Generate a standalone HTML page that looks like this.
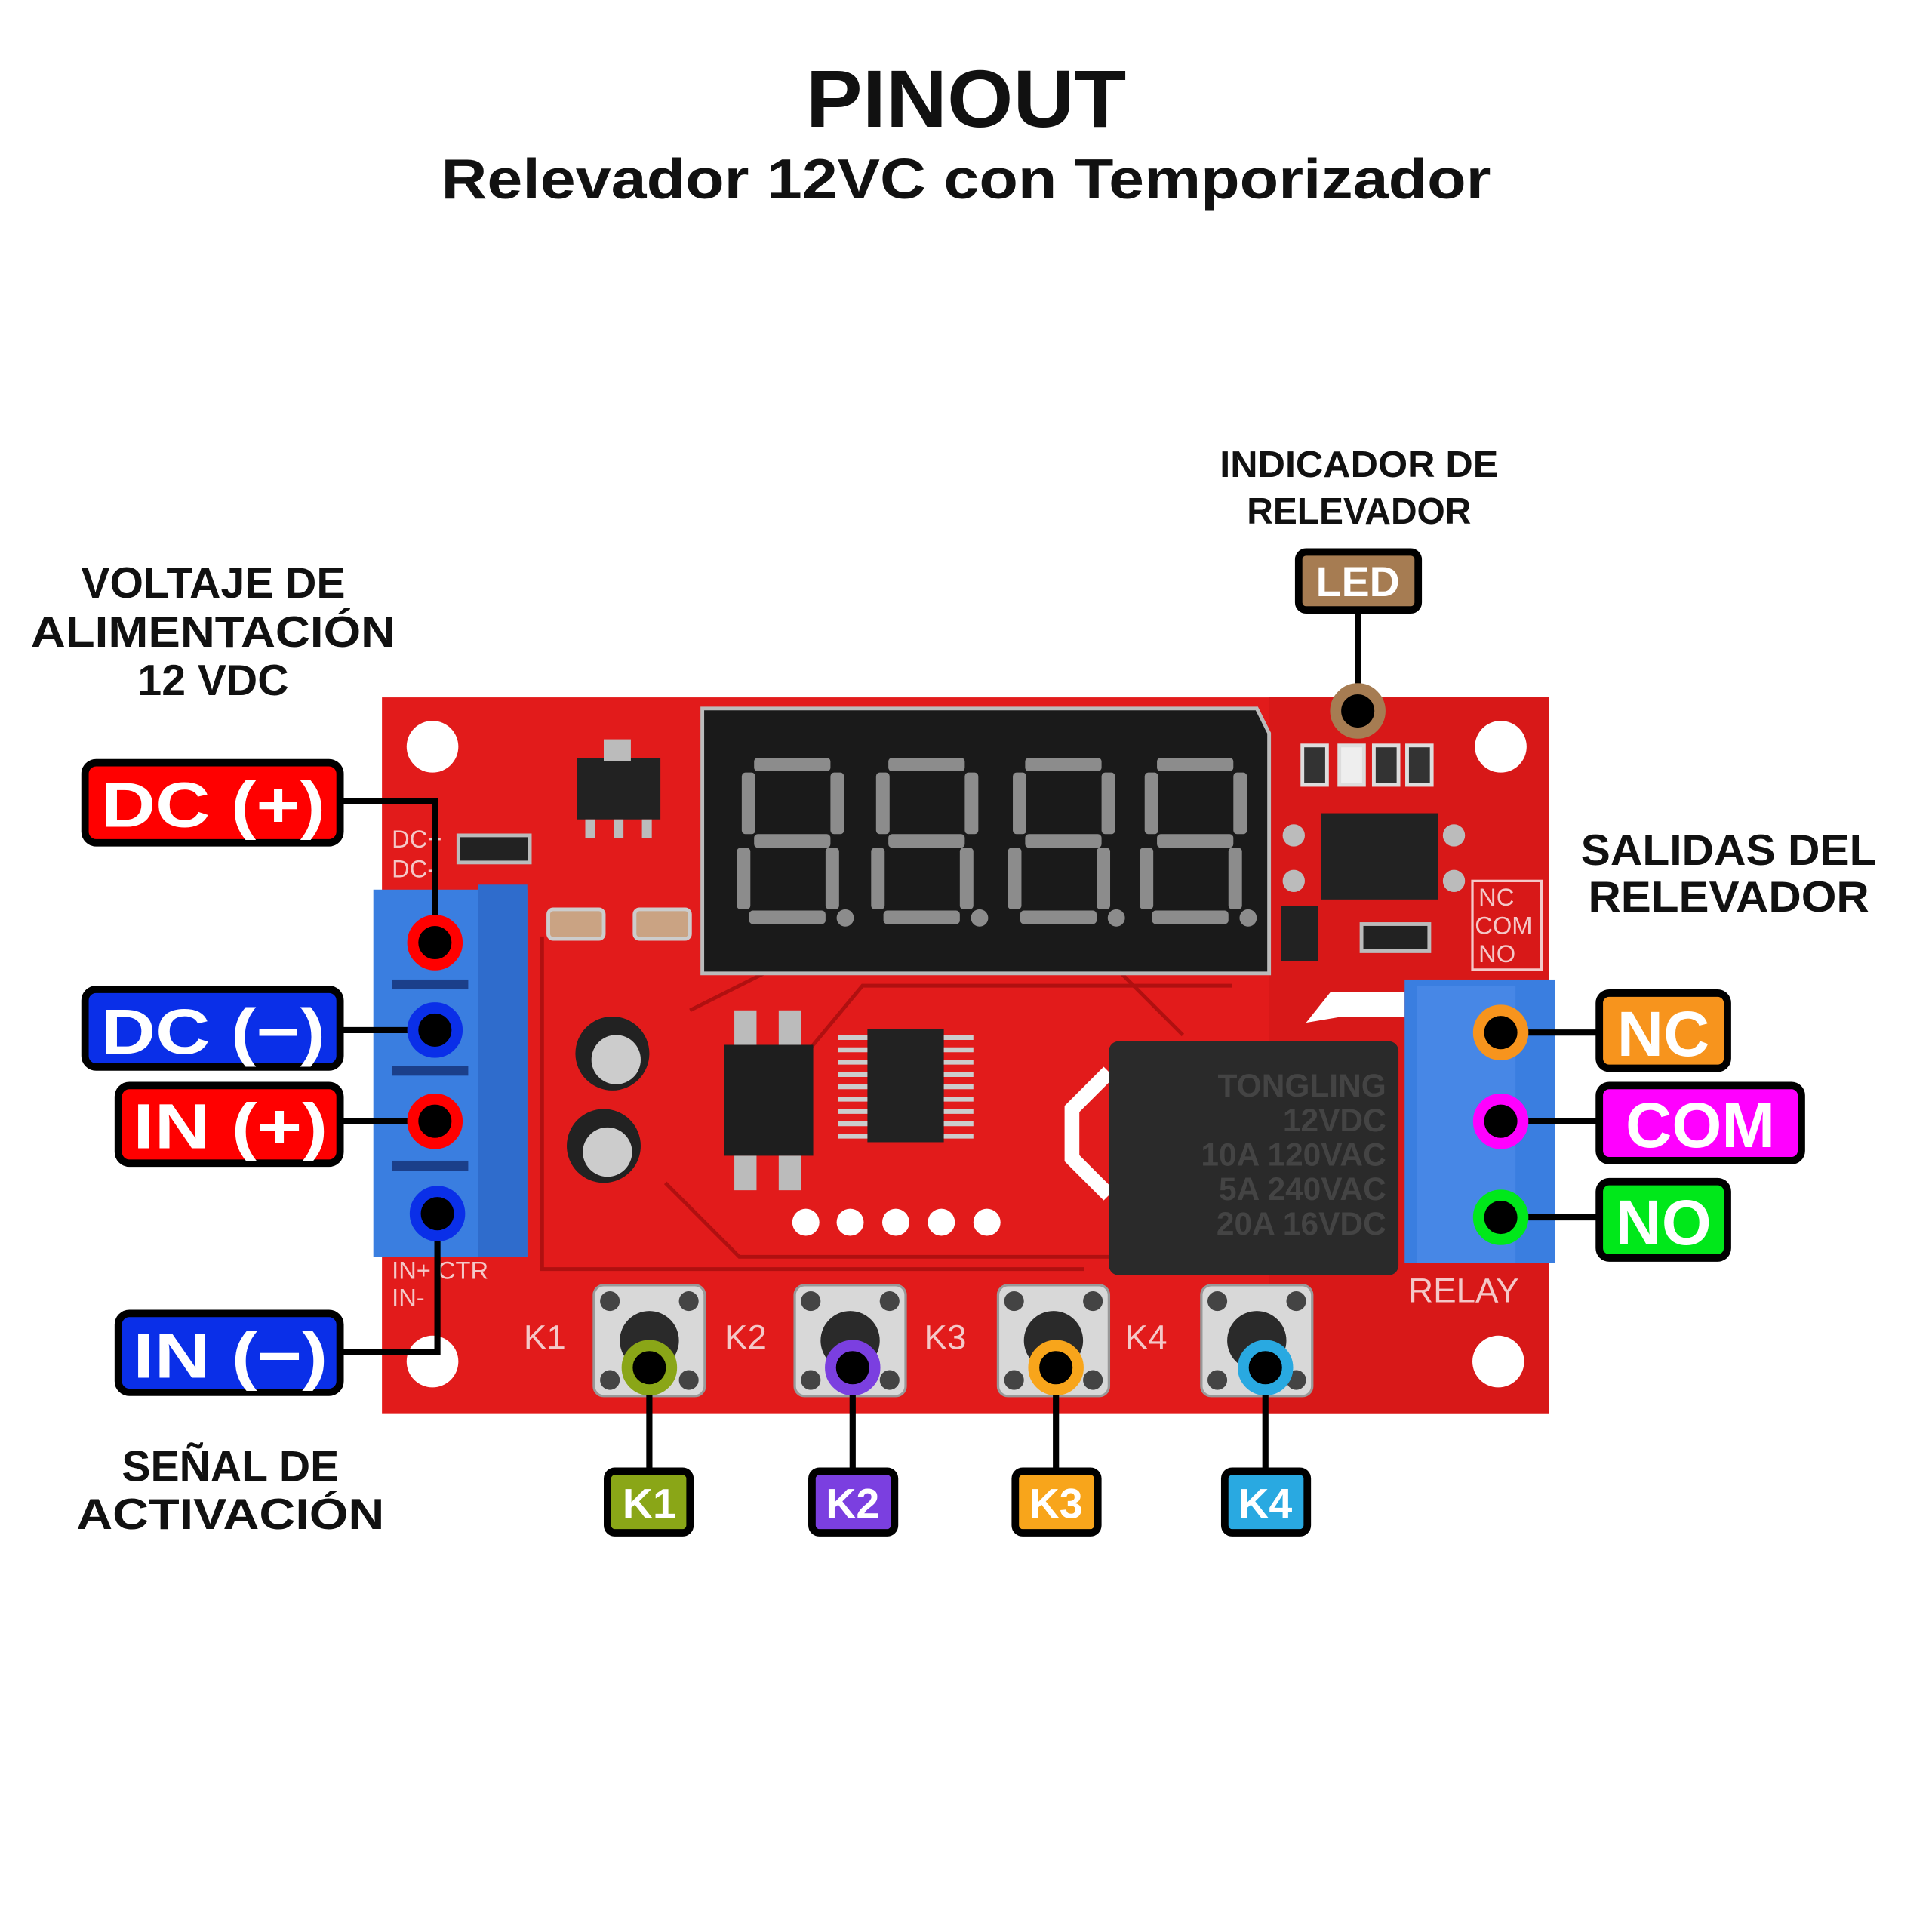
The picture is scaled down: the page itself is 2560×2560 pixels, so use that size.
<!DOCTYPE html>
<html><head><meta charset="utf-8"><style>
html,body{margin:0;padding:0;background:#fff}
svg{display:block}
text{font-family:"Liberation Sans",sans-serif;font-weight:bold}
</style></head><body>
<svg width="2560" height="2560" viewBox="0 0 1568 1568" xmlns="http://www.w3.org/2000/svg">
<defs>
<g id="dg" fill="#8c8c8c">
<rect x="14" y="0" width="62" height="11" rx="3"/>
<rect x="14" y="62" width="62" height="11" rx="3"/>
<rect x="10" y="124" width="62" height="11" rx="3"/>
<rect x="4" y="12" width="11" height="50" rx="3"/>
<rect x="76" y="12" width="11" height="50" rx="3"/>
<rect x="0" y="73" width="11" height="50" rx="3"/>
<rect x="72" y="73" width="11" height="50" rx="3"/>
<circle cx="88" cy="130" r="7"/>
</g>
<g id="btn">
<rect x="-45" y="-45" width="90" height="90" rx="8" fill="#d8d8d8" stroke="#999" stroke-width="2"/>
<circle cx="-32" cy="-32" r="8" fill="#444"/><circle cx="32" cy="-32" r="8" fill="#444"/>
<circle cx="-32" cy="32" r="8" fill="#444"/><circle cx="32" cy="32" r="8" fill="#444"/>
<circle cx="0" cy="0" r="24" fill="#2a2a2a"/>
</g>
</defs>

<text x="784" y="103" font-size="66" text-anchor="middle" fill="#111" textLength="260" lengthAdjust="spacingAndGlyphs">PINOUT</text>
<text x="784" y="161" font-size="46" text-anchor="middle" fill="#111" textLength="852" lengthAdjust="spacingAndGlyphs">Relevador 12VC con Temporizador</text>

<!-- board -->
<rect x="310" y="566" width="947" height="581" fill="#e21b1b"/>
<rect x="1030" y="566" width="227" height="581" fill="#d81818"/>
<g fill="#fff"><circle cx="351" cy="606" r="21"/><circle cx="1218" cy="606" r="21"/><circle cx="351" cy="1105" r="21"/><circle cx="1216" cy="1105" r="21"/></g>
<g fill="none" stroke="#b01010" stroke-width="3">
<path d="M560 820 L640 780 L900 780 L960 840"/><path d="M540 960 L600 1020 L900 1020"/><path d="M440 760 L440 1030 L880 1030"/><path d="M650 860 L700 800 L1000 800"/>
</g>
<!-- display -->
<path d="M570 575 L1020 575 L1030 595 L1030 790 L570 790 Z" fill="#1a1a1a" stroke="#bbb" stroke-width="3"/>
<use href="#dg" x="598" y="615"/><use href="#dg" x="707" y="615"/><use href="#dg" x="818" y="615"/><use href="#dg" x="925" y="615"/>
<!-- components -->
<rect x="468" y="615" width="68" height="50" fill="#222"/><rect x="490" y="600" width="22" height="18" fill="#bbb"/>
<g fill="#bbb"><rect x="475" y="665" width="8" height="15"/><rect x="498" y="665" width="8" height="15"/><rect x="521" y="665" width="8" height="15"/></g>
<rect x="372" y="678" width="58" height="22" fill="#222" stroke="#bbb" stroke-width="3"/>
<rect x="445" y="738" width="45" height="24" rx="4" fill="#caa383" stroke="#ccc" stroke-width="3"/>
<rect x="515" y="738" width="45" height="24" rx="4" fill="#caa383" stroke="#ccc" stroke-width="3"/>
<circle cx="497" cy="855" r="30" fill="#222"/><circle cx="500" cy="860" r="20" fill="#ccc"/>
<circle cx="490" cy="930" r="30" fill="#222"/><circle cx="493" cy="935" r="20" fill="#ccc"/>
<rect x="588" y="848" width="72" height="90" fill="#1e1e1e"/>
<g fill="#bbb"><rect x="596" y="820" width="18" height="28"/><rect x="632" y="820" width="18" height="28"/><rect x="596" y="938" width="18" height="28"/><rect x="632" y="938" width="18" height="28"/></g>
<rect x="704" y="835" width="62" height="92" fill="#222"/>
<g stroke="#ccc" stroke-width="4"><path d="M680 842H704M680 852H704M680 862H704M680 872H704M680 882H704M680 892H704M680 902H704M680 912H704M680 922H704M766 842H790M766 852H790M766 862H790M766 872H790M766 882H790M766 892H790M766 902H790M766 912H790M766 922H790"/></g>
<g fill="#fff"><circle cx="654" cy="992" r="11"/><circle cx="690" cy="992" r="11"/><circle cx="727" cy="992" r="11"/><circle cx="764" cy="992" r="11"/><circle cx="801" cy="992" r="11"/></g>
<rect x="1072" y="660" width="95" height="70" fill="#222"/>
<g fill="#bbb"><circle cx="1050" cy="678" r="9"/><circle cx="1050" cy="715" r="9"/><circle cx="1180" cy="678" r="9"/><circle cx="1180" cy="715" r="9"/></g>
<rect x="1040" y="735" width="30" height="45" fill="#222"/><rect x="1105" y="750" width="55" height="22" fill="#222" stroke="#bbb" stroke-width="3"/>
<g fill="#333" stroke="#ddd" stroke-width="3"><rect x="1057" y="605" width="20" height="32"/><rect x="1087" y="605" width="20" height="32" fill="#eee"/><rect x="1115" y="605" width="20" height="32"/><rect x="1142" y="605" width="20" height="32"/></g>
<path d="M1060 830 L1080 805 L1140 805 L1140 825 L1090 825 Z" fill="#fff"/>
<path d="M900 870 L870 900 L870 940 L900 970" fill="none" stroke="#fff" stroke-width="12"/>
<rect x="900" y="845" width="235" height="190" rx="8" fill="#2a2a2a"/>
<g fill="#444" font-size="26" text-anchor="end"><text x="1125" y="890">TONGLING</text><text x="1125" y="918">12VDC</text><text x="1125" y="946">10A  120VAC</text><text x="1125" y="974">5A  240VAC</text><text x="1125" y="1002">20A  16VDC</text></g>
<!-- silk labels -->
<g fill="none" stroke="#f4c8c8" stroke-width="2"><rect x="1195" y="715" width="56" height="72"/></g>
<g fill="#f4c8c8" font-size="20"><text x="1200" y="735" style="font-weight:normal">NC</text><text x="1197" y="758" style="font-weight:normal">COM</text><text x="1200" y="781" style="font-weight:normal">NO</text>
<text x="1143" y="1057" font-size="28" style="font-weight:normal">RELAY</text>
<text x="425" y="1095" font-size="28" style="font-weight:normal">K1</text><text x="588" y="1095" font-size="28" style="font-weight:normal">K2</text><text x="750" y="1095" font-size="28" style="font-weight:normal">K3</text><text x="913" y="1095" font-size="28" style="font-weight:normal">K4</text>
<text x="318" y="688" style="font-weight:normal">DC+</text><text x="318" y="712" style="font-weight:normal">DC-</text><text x="318" y="1038" style="font-weight:normal">IN+ CTR</text><text x="318" y="1060" style="font-weight:normal">IN-</text></g>
<!-- terminals -->
<rect x="303" y="722" width="125" height="298" fill="#3a7ee0"/><rect x="388" y="718" width="40" height="302" fill="#2f6ccc"/>
<g fill="#1b3f8a"><rect x="318" y="795" width="62" height="8"/><rect x="318" y="865" width="62" height="8"/><rect x="318" y="942" width="62" height="8"/></g>
<rect x="1140" y="795" width="122" height="230" fill="#3a7ee0"/><rect x="1150" y="800" width="80" height="225" fill="#4787e6"/>
<!-- buttons -->
<use href="#btn" x="527" y="1088"/><use href="#btn" x="690" y="1088"/><use href="#btn" x="855" y="1088"/><use href="#btn" x="1020" y="1088"/>

<!-- connectors -->
<g stroke="#000" stroke-width="5" fill="none">
<path d="M277 650 H353 V765"/><path d="M277 836 H353"/><path d="M277 910 H353"/><path d="M277 1097 H355 V985"/>
<path d="M1218 838 H1297"/><path d="M1218 910 H1297"/><path d="M1218 988 H1297"/>
<path d="M1102 495 V577"/>
<path d="M527 1110 V1193"/><path d="M692 1110 V1193"/><path d="M857 1110 V1193"/><path d="M1027 1110 V1193"/>
</g>
<!-- pins -->
<g stroke-width="9">
<circle cx="353" cy="765" r="18" fill="#000" stroke="#f00"/><circle cx="353" cy="836" r="18" fill="#000" stroke="#0a2fe8"/>
<circle cx="353" cy="910" r="18" fill="#000" stroke="#f00"/><circle cx="355" cy="985" r="18" fill="#000" stroke="#0a2fe8"/>
<circle cx="1218" cy="838" r="18" fill="#000" stroke="#f7941d"/><circle cx="1218" cy="910" r="18" fill="#000" stroke="#ff00ff"/><circle cx="1218" cy="988" r="18" fill="#000" stroke="#00e81a"/>
<circle cx="1102" cy="577" r="18" fill="#000" stroke="#a67c52"/>
<circle cx="527" cy="1110" r="18" fill="#000" stroke="#8aa617"/><circle cx="692" cy="1110" r="18" fill="#000" stroke="#7b3fe0"/><circle cx="857" cy="1110" r="18" fill="#000" stroke="#f8a51b"/><circle cx="1027" cy="1110" r="18" fill="#000" stroke="#29a9e1"/>
</g>
<!-- label boxes -->
<g stroke="#000" stroke-width="6">
<rect x="69" y="619" width="207" height="65" rx="9" fill="#f00"/>
<rect x="69" y="803" width="207" height="63" rx="9" fill="#0a2fe8"/>
<rect x="96" y="881" width="180" height="63" rx="9" fill="#f00"/>
<rect x="96" y="1066" width="180" height="64" rx="9" fill="#0a2fe8"/>
<rect x="1298" y="806" width="104" height="61" rx="8" fill="#f7941d"/>
<rect x="1298" y="881" width="164" height="61" rx="8" fill="#ff00ff"/>
<rect x="1298" y="959" width="104" height="62" rx="8" fill="#00e81a"/>
<rect x="1054" y="448" width="97" height="47" rx="6" fill="#a67c52"/>
<rect x="493" y="1194" width="67" height="50" rx="6" fill="#8aa617"/>
<rect x="659" y="1194" width="67" height="50" rx="6" fill="#7b3fe0"/>
<rect x="824" y="1194" width="67" height="50" rx="6" fill="#f8a51b"/>
<rect x="994" y="1194" width="67" height="50" rx="6" fill="#29a9e1"/>
</g>
<g fill="#fff" font-size="52">
<text x="82" y="671" textLength="182" lengthAdjust="spacingAndGlyphs">DC (+)</text><text x="82" y="855" textLength="182" lengthAdjust="spacingAndGlyphs">DC (−)</text><text x="108" y="932" textLength="158" lengthAdjust="spacingAndGlyphs">IN (+)</text><text x="108" y="1118" textLength="158" lengthAdjust="spacingAndGlyphs">IN (−)</text>
<text x="1350" y="857" text-anchor="middle">NC</text><text x="1380" y="931" text-anchor="middle">COM</text><text x="1350" y="1010" text-anchor="middle">NO</text>
<text x="1102" y="484" font-size="34" text-anchor="middle">LED</text>
<g font-size="34" text-anchor="middle"><text x="527" y="1232">K1</text><text x="692" y="1232">K2</text><text x="857" y="1232">K3</text><text x="1027" y="1232">K4</text></g>
</g>
<!-- headings -->
<g fill="#111" text-anchor="middle" font-size="35">
<text x="173" y="485">VOLTAJE DE</text><text x="173" y="525" textLength="296" lengthAdjust="spacingAndGlyphs">ALIMENTACIÓN</text><text x="173" y="564">12 VDC</text>
<text x="187" y="1202">SEÑAL DE</text><text x="187" y="1241" textLength="250" lengthAdjust="spacingAndGlyphs">ACTIVACIÓN</text>
<text x="1403" y="702" textLength="240" lengthAdjust="spacingAndGlyphs">SALIDAS DEL</text><text x="1403" y="740" textLength="228" lengthAdjust="spacingAndGlyphs">RELEVADOR</text>
<text x="1103" y="387" font-size="30" textLength="226" lengthAdjust="spacingAndGlyphs">INDICADOR DE</text><text x="1103" y="425" font-size="30" textLength="182" lengthAdjust="spacingAndGlyphs">RELEVADOR</text>
</g>
</svg>
</body></html>
